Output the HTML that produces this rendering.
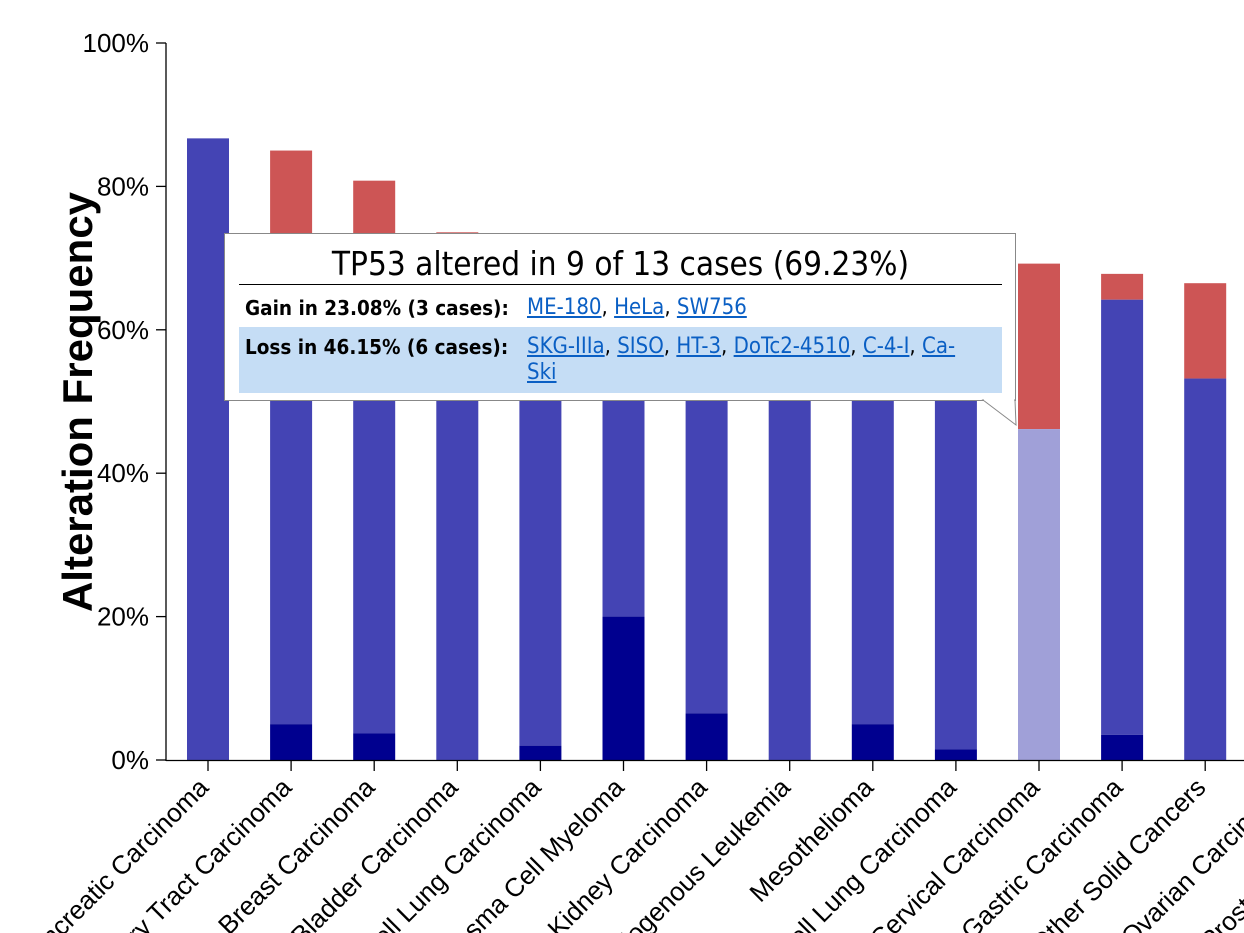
<!DOCTYPE html>
<html><head><meta charset="utf-8"><style>
body{margin:0;background:#fff;width:1244px;height:933px;overflow:hidden;position:relative;font-family:"Liberation Sans",sans-serif}
svg{position:absolute;left:0;top:0;overflow:hidden}
#tip{position:absolute;left:224px;top:233px;width:792px;height:168px;border:1px solid #888;background:#fff;box-sizing:border-box;font-family:"DejaVu Sans Condensed","Liberation Sans",sans-serif}
#tip .title{position:absolute;left:14px;width:763px;top:11px;text-align:center;font-size:33px;line-height:38px;border-bottom:1px solid #000;padding-bottom:1px;font-family:"Liberation Sans Narrow","DejaVu Sans Condensed",sans-serif}
.row{position:absolute;left:14px;width:763px;line-height:26px}
.row b{position:absolute;left:6px;font-weight:bold;font-size:20.5px}
.row .links{position:absolute;left:288px;width:460px;font-size:22px}
a{color:#0a5fc4;text-decoration:underline}
</style></head><body>
<svg id="chart" width="1244" height="933"></svg>
<div id="tip">
<div class="title">TP53 altered in 9 of 13 cases (69.23%)</div>
<div class="row" style="top:61px;height:26px"><b>Gain in 23.08% (3 cases):</b><span class="links"><a>ME-180</a>, <a>HeLa</a>, <a>SW756</a></span></div>
<div class="row" style="top:93px;height:66px;background:#c5ddf5"><b style="top:7px">Loss in 46.15% (6 cases):</b><span class="links" style="top:7px"><a>SKG-IIIa</a>, <a>SISO</a>, <a>HT-3</a>, <a>DoTc2-4510</a>, <a>C-4-I</a>, <a>Ca-<br>Ski</a></span></div>
</div>
<svg width="1244" height="933" style="pointer-events:none"><polygon points="983,400 1016,425 1015,400" fill="#fff" stroke="#888"/><line x1="984" y1="399" x2="1014" y2="399" stroke="#fff" stroke-width="3"/></svg>
<script>
const categories=["Pancreatic Carcinoma","Biliary Tract Carcinoma","Breast Carcinoma","Bladder Carcinoma","Non-Small Cell Lung Carcinoma","Plasma Cell Myeloma","Kidney Carcinoma","Acute Myelogenous Leukemia","Mesothelioma","Small Cell Lung Carcinoma","Cervical Carcinoma","Gastric Carcinoma","Other Solid Cancers","Ovarian Carcinoma","Prostate Carcinoma"];
const deepDel=[0,5,3.7,0,2,20,6.5,0,5,1.5,0,3.5,0,4,2];
const loss=[86.7,60,55,72,72,72,71,70.5,70,69.5,46.15,64.2,53.2,50,45];
const gain=[0,85,80.8,73.6,0,0,0,0,0,0,69.23,67.8,66.5,62,60];
const yTicks=[0,20,40,60,80,100];
const NS="http://www.w3.org/2000/svg";
const svg=document.getElementById('chart');
const x0=166,step=83.1,bw=42,firstC=208;
const y=v=>760-v*7.17;
const xc=i=>firstC+i*step;
function mk(t,a){const e=document.createElementNS(NS,t);for(const k in a)e.setAttribute(k,a[k]);svg.appendChild(e);return e;}
categories.forEach((c,i)=>{
  const cx=xc(i);
  const hl=(i===10);
  if(gain[i]>0){let r=mk('rect',{x:cx-bw/2,y:y(gain[i]),width:bw,height:y(loss[i])-y(gain[i]),fill:'#cd5555'});
  
  }
  let m=mk('rect',{x:cx-bw/2,y:y(loss[i]),width:bw,height:y(deepDel[i])-y(loss[i]),fill:hl?'#a0a0d8':'#4444b4'});
  
  
  if(deepDel[i]>0){let d=mk('rect',{x:cx-bw/2,y:y(deepDel[i]),width:bw,height:760-y(deepDel[i]),fill:'#00008f'});
  
  }
  mk('line',{x1:cx,y1:760,x2:cx,y2:771,stroke:'#000','stroke-width':1.3});
  let t=mk('text',{x:cx+2,y:789,'text-anchor':'end','font-size':26,transform:`rotate(-45 ${cx+2} 789)`,'font-family':'Liberation Sans, sans-serif'});
  t.textContent=c;
  
  
});
mk('line',{x1:x0,y1:43,x2:x0,y2:761,stroke:'#000','stroke-width':1.3});
mk('line',{x1:x0,y1:760.5,x2:1244,y2:760.5,stroke:'#000','stroke-width':1.3});
yTicks.forEach(v=>{
  mk('line',{x1:156,y1:y(v),x2:x0,y2:y(v),stroke:'#000','stroke-width':1.3});
  let t=mk('text',{x:149,y:y(v)+9,'text-anchor':'end','font-size':26});
  t.textContent=v+'%';
  
  
});
let yt=mk('text',{x:92,y:402,'text-anchor':'middle','font-size':42,'font-weight':'bold',transform:'rotate(-90 92 402)'});
yt.textContent='Alteration Frequency';


</script>
</body></html>
